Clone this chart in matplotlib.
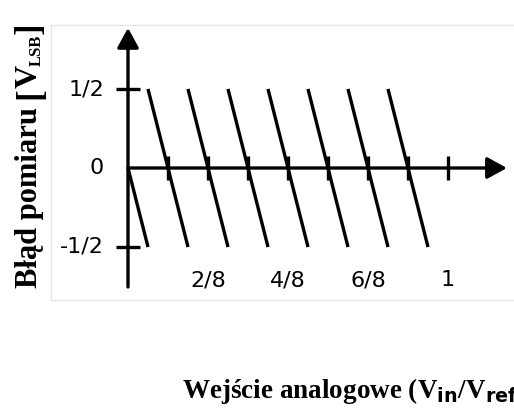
import matplotlib
matplotlib.use("Agg")
import matplotlib.pyplot as plt
from matplotlib.lines import Line2D

# quantisation error segments (x in Vin/Vref, y in LSB)
seg_x0 = [0, 1/16, 3/16, 5/16, 7/16, 9/16, 11/16, 13/16]
seg_y0 = [0, 0.5, 0.5, 0.5, 0.5, 0.5, 0.5, 0.5]
seg_x1 = [1/16, 3/16, 5/16, 7/16, 9/16, 11/16, 13/16, 15/16]
seg_y1 = [-0.5, -0.5, -0.5, -0.5, -0.5, -0.5, -0.5, -0.5]

xtick_pos = [1/8, 2/8, 3/8, 4/8, 5/8, 6/8, 7/8, 1]
xlabel_pos = [2/8, 4/8, 6/8, 1]
xlabel_txt = ['2/8', '4/8', '6/8', '1']
ytick_pos = [0.5, 0, -0.5]
ytick_txt = ['1/2', '0', '-1/2']

W, H = 514, 411
fig = plt.figure(figsize=(W / 100, H / 100), dpi=100)
ax = fig.add_axes([0, 0, 1, 1])
ax.set_xlim(-0.4, 1.20625)
ax.set_ylim(-1.538, 1.0633)
ax.axis('off')

def fx(px):
    return px / W

def fy(py):
    return 1 - py / H

# faint frame of the original picture
frame = dict(color='#e6e6e6', lw=1, transform=fig.transFigure)
fig.add_artist(Line2D([fx(51), 1], [fy(25), fy(25)], **frame))
fig.add_artist(Line2D([fx(51), fx(51)], [fy(25), fy(300)], **frame))
fig.add_artist(Line2D([fx(51), 1], [fy(300), fy(300)], **frame))

lw = 2.4
# axes with arrow heads
arrow = dict(arrowstyle='-|>,head_length=0.6,head_width=0.33', color='black',
             lw=lw, shrinkA=0, shrinkB=0, mutation_scale=20)
ax.annotate('', xy=(0, 0.886), xytext=(0, -0.753), arrowprops=arrow)
ax.annotate('', xy=(1.184, 0), xytext=(0, 0), arrowprops=arrow)

# tick marks
for x in xtick_pos:
    ax.plot([x, x], [-0.073, 0.073], color='black', lw=lw, solid_capstyle='butt')
for y in ytick_pos:
    if y != 0:
        ax.plot([-0.036, 0.036], [y, y], color='black', lw=lw, solid_capstyle='butt')

# error sawtooth
for x0, y0, x1, y1 in zip(seg_x0, seg_y0, seg_x1, seg_y1):
    ax.plot([x0, x1], [y0, y1], color='black', lw=lw, solid_capstyle='butt')

for y, t in zip(ytick_pos, ytick_txt):
    ax.text(-0.075, y, t, ha='right', va='center', fontsize=16,
            family='DejaVu Sans')
for x, t in zip(xlabel_pos, xlabel_txt):
    ax.text(x, -0.709, t, ha='center', va='center', fontsize=16,
            family='DejaVu Sans')

# y label, built from pieces (text, size, baseline px, gap before px)
serif = dict(family='Liberation Serif', fontweight='bold', rotation=90,
             rotation_mode='anchor', ha='left', va='baseline')
pieces = [('Błąd pomiaru', 22, 37, 0),
          ('[', 25, 39, 8),
          ('V', 23, 37, 0),
          ('LSB', 12, 41, -2),
          (']', 25, 39, 1)]
renderer = fig.canvas.get_renderer()
ypos = 288
for txt, size, base, gap in pieces:
    ypos -= gap
    t = fig.text(fx(base), fy(ypos), txt, fontsize=size, **serif)
    ypos -= t.get_window_extent(renderer).height

fig.text(fx(182), fy(398),
         r'Wejście analogowe (V$_{\mathbf{in}}$/V$_{\mathbf{ref}}$)',
         ha='left', va='baseline', fontsize=19.5,
         family='Liberation Serif', fontweight='bold', math_fontfamily='dejavusans')

fig.savefig('out.png', dpi=100)
